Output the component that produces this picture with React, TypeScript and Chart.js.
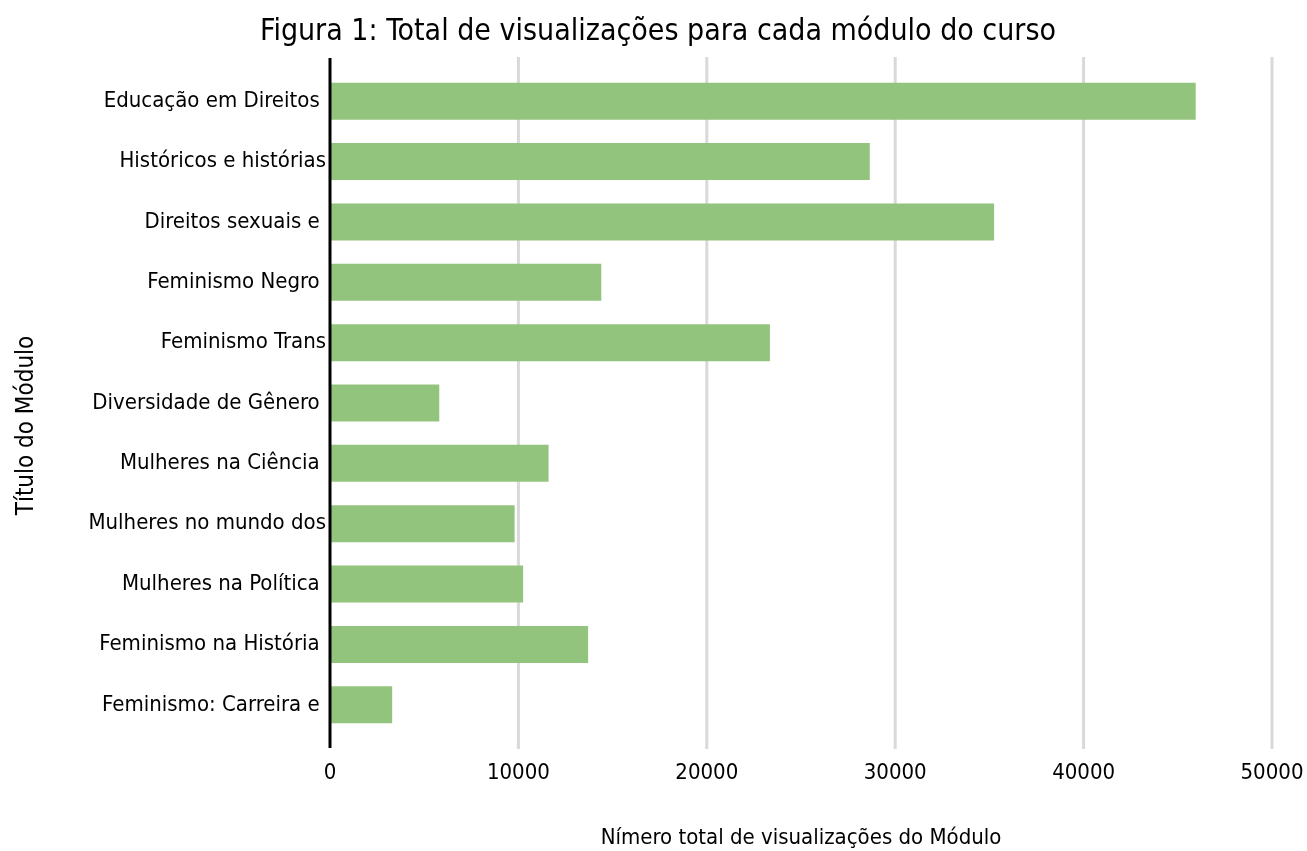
import React, { useEffect, useRef } from "react";
import { Chart, registerables } from "chart.js";

Chart.register(...registerables);

const categories: string[] = [
  "Educação em Direitos ",
  "Históricos e histórias",
  "Direitos sexuais e ",
  "Feminismo Negro ",
  "Feminismo Trans",
  "Diversidade de Gênero ",
  "Mulheres na Ciência ",
  "Mulheres no mundo dos",
  "Mulheres na Política ",
  "Feminismo na História ",
  "Feminismo: Carreira e ",
];

const views: number[] = [
  45950, 28650, 35250, 14400, 23350, 5800, 11600, 9800, 10250, 13700, 3300,
];

const xTicks: number[] = [0, 10000, 20000, 30000, 40000, 50000];

const yTitle = "Título do Módulo";
const xTitle = "Nímero total de visualizações do Módulo";
const chartTitle = "Figura 1: Total de visualizações para cada módulo do curso";

const FONT = "'Liberation Sans Narrow', 'DejaVu Sans Condensed', sans-serif";

export default function App() {
  const ref = useRef<HTMLCanvasElement | null>(null);

  useEffect(() => {
    document.body.style.margin = "0";
    let chart: Chart | null = null;
    let cancelled = false;

    const gridPlugin = {
      id: "extGrid",
      beforeDatasetsDraw(c: any) {
        const ctx = c.ctx;
        const xs = c.scales.x;
        const top = c.chartArea.top - 14;
        const bottom = c.chartArea.bottom + 14;
        ctx.save();
        ctx.strokeStyle = "#d9d9d9";
        ctx.lineWidth = 3;
        xTicks.forEach((v) => {
          if (v === 0) return;
          const px = xs.getPixelForValue(v);
          ctx.beginPath();
          ctx.moveTo(px, top);
          ctx.lineTo(px, bottom);
          ctx.stroke();
        });
        ctx.restore();
      },
      afterDatasetsDraw(c: any) {
        const ctx = c.ctx;
        const xs = c.scales.x;
        const px = xs.getPixelForValue(0);
        ctx.save();
        ctx.strokeStyle = "#000000";
        ctx.lineWidth = 3;
        ctx.beginPath();
        ctx.moveTo(px, c.chartArea.top - 13);
        ctx.lineTo(px, c.chartArea.bottom + 13);
        ctx.stroke();
        // y-axis title, centred on the full canvas height
        ctx.translate(27, c.height / 2);
        ctx.rotate(-Math.PI / 2);
        ctx.fillStyle = "#000000";
        ctx.font = "24px " + FONT;
        ctx.textAlign = "center";
        ctx.textBaseline = "middle";
        ctx.fillText(yTitle, 0, 0);
        ctx.restore();
      },
    };

    const build = () => {
      if (cancelled || !ref.current) return;
      chart = new Chart(ref.current, {
        type: "bar",
        data: {
          labels: categories,
          datasets: [
            {
              label: "Visualizações",
              data: views,
              backgroundColor: "#93c47d",
              borderWidth: 0,
              categoryPercentage: 1,
              barPercentage: 0.613,
            },
          ],
        },
        options: {
          indexAxis: "y",
          animation: false,
          responsive: false,
          maintainAspectRatio: false,
          layout: { padding: { left: 44, right: 35, top: 0, bottom: 0 } },
          plugins: {
            legend: { display: false },
            tooltip: { enabled: false },
            title: {
              display: true,
              text: chartTitle,
              color: "#000000",
              font: { family: FONT, size: 30, weight: "normal" },
              padding: { top: 14, bottom: 21 },
            },
          },
          scales: {
            x: {
              type: "linear",
              min: 0,
              max: 50000,
              afterBuildTicks: (s: any) => {
                s.ticks = xTicks.map((v) => ({ value: v }));
              },
              afterFit: (s: any) => {
                s.height = 116;
                s.paddingLeft = 0;
                s.paddingRight = 0;
              },
              grid: { display: false, drawTicks: false },
              border: { display: false },
              ticks: {
                color: "#000000",
                font: { family: FONT, size: 22 },
                padding: 25,
                maxRotation: 0,
                callback: (v: any) => String(v),
              },
              title: {
                display: true,
                text: xTitle,
                color: "#000000",
                font: { family: FONT, size: 22 },
                padding: { top: 0, bottom: 0 },
              },
            },
            y: {
              type: "category",
              afterFit: (s: any) => {
                s.width = 286;
              },
              grid: { display: false, drawTicks: false },
              border: { display: false },
              ticks: {
                color: "#000000",
                font: { family: FONT, size: 22 },
                padding: 4,
                autoSkip: false,
              },
              title: { display: false },
            },
          },
        },
        plugins: [gridPlugin],
      });
    };

    const fonts: any = (document as any).fonts;
    if (fonts && fonts.load) {
      Promise.all([
        fonts.load("22px 'Liberation Sans Narrow'"),
        fonts.load("22px 'DejaVu Sans Condensed'"),
      ])
        .catch(() => null)
        .then(build);
    } else {
      build();
    }

    return () => {
      cancelled = true;
      if (chart) chart.destroy();
      chart = null;
    };
  }, []);

  return (
    <div style={{ width: 1307, height: 851, background: "#ffffff" }}>
      <canvas ref={ref} width={1307} height={851} style={{ display: "block" }} />
    </div>
  );
}
